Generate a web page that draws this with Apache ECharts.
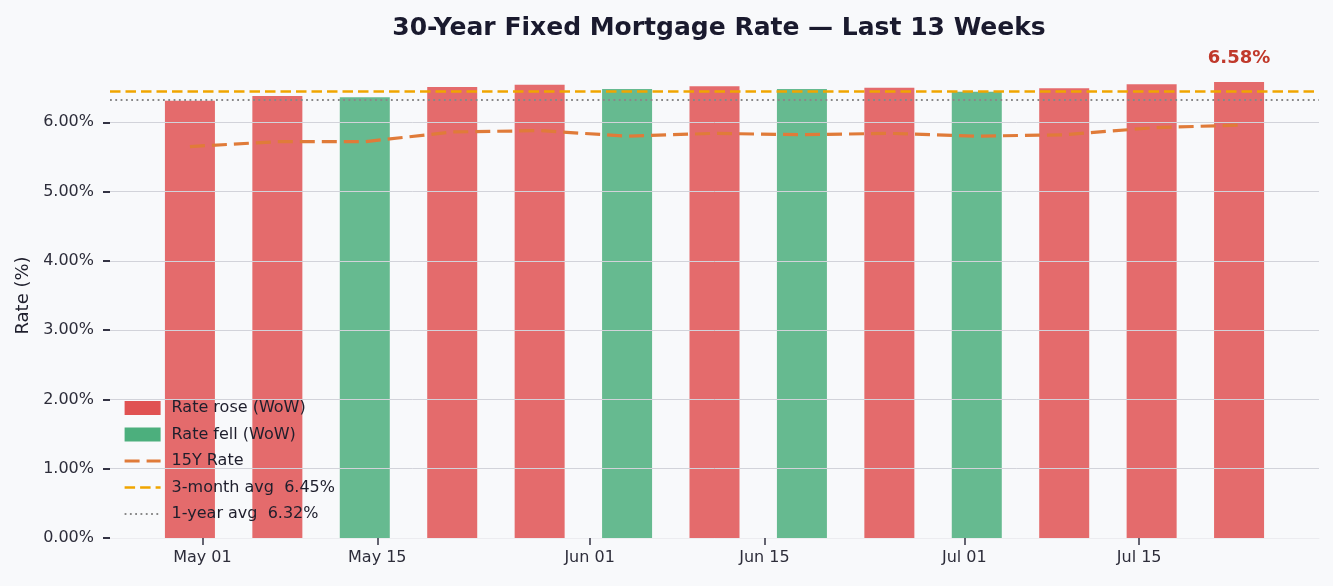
<!DOCTYPE html>
<html>
<head>
<meta charset="utf-8">
<script src="https://cdn.jsdelivr.net/npm/echarts@6/dist/echarts.min.js"></script>
<style>
  html, body { margin: 0; padding: 0; background: #f8f9fb; }
  #chart { width: 1333px; height: 586px; }
</style>
</head>
<body>
<div id="chart"></div>
<script>
// weekly survey dates and rates
const weekDates = ['2025-04-30', '2025-05-07', '2025-05-14', '2025-05-21', '2025-05-28', '2025-06-04', '2025-06-11',
  '2025-06-18', '2025-06-25', '2025-07-02', '2025-07-09', '2025-07-16', '2025-07-23'];
const rate30 = [6.31, 6.38, 6.36, 6.51, 6.54, 6.48, 6.52, 6.48, 6.50, 6.44, 6.49, 6.55, 6.58];
const rate15 = [5.65, 5.72, 5.72, 5.86, 5.88, 5.80, 5.84, 5.82, 5.84, 5.80, 5.82, 5.92, 5.96];
const avg3m = 6.45;
const avg1y = 6.32;

// axis ticks
const tickDates = ['2025-05-01', '2025-05-15', '2025-06-01', '2025-06-15', '2025-07-01', '2025-07-15'];
const tickLabels = ['May 01', 'May 15', 'Jun 01', 'Jun 15', 'Jul 01', 'Jul 15'];
const yTicks = [0, 1, 2, 3, 4, 5, 6];

const FONT = 'DejaVu Sans';
const RED = '#e05252';
const GREEN = '#4caf7d';
const RED_BAR = 'rgba(224, 82, 82, 0.85)';
const GREEN_BAR = 'rgba(76, 175, 125, 0.85)';

// line styles (shared by the series and their legend icons)
const style15 = { color: '#e07b39', width: 3.2, type: [15, 7] };
const style3m = { color: '#f0a500', width: 2.6, type: [10.5, 5] };
const style1y = { color: '#888888', width: 1.8, type: [1.8, 3.5] };

// days since first week
const DAY = 86400000;
const toDay = d => (Date.parse(d) - Date.parse(weekDates[0])) / DAY;
const weekDays = weekDates.map(toDay);
const tickDays = tickDates.map(toDay);

// x limits: bar half width 2 days + 5% margin
const lo = weekDays[0] - 2;
const hi = weekDays[weekDays.length - 1] + 2;
const pad = (hi - lo) * 0.05;

const roseData = [];
const fellData = [];
rate30.forEach((r, i) => {
  const up = i === 0 || r > rate30[i - 1];
  const item = { value: [weekDays[i], r] };
  if (i === rate30.length - 1) {
    item.label = {
      show: true,
      position: 'top',
      distance: 15,
      formatter: p => p.value[1].toFixed(2) + '%',
      color: '#c0392b',
      fontFamily: FONT,
      fontWeight: 'bold',
      fontSize: 18
    };
  }
  (up ? roseData : fellData).push(item);
});

const name3m = '3-month avg  ' + avg3m.toFixed(2) + '%';
const name1y = '1-year avg  ' + avg1y.toFixed(2) + '%';
const noSymbol = { color: 'rgba(0,0,0,0)', borderWidth: 0 };

const chart = echarts.init(document.getElementById('chart'));
chart.setOption({
  animation: false,
  backgroundColor: '#f8f9fb',
  textStyle: { fontFamily: FONT },
  title: {
    text: '30-Year Fixed Mortgage Rate — Last 13 Weeks',
    left: 714,
    textAlign: 'center',
    top: 11,
    textStyle: { fontFamily: FONT, fontSize: 25, fontWeight: 'bold', color: '#1a1a2e' }
  },
  legend: {
    orient: 'vertical',
    left: 123,
    top: 400,
    padding: 0,
    itemWidth: 36,
    itemHeight: 14,
    itemGap: 10.5,
    textStyle: { fontFamily: FONT, fontSize: 16, color: '#1e1e2c', padding: [0, 0, 0, 6] },
    data: [
      { name: 'Rate rose (WoW)', icon: 'rect', itemStyle: { color: RED } },
      { name: 'Rate fell (WoW)', icon: 'rect', itemStyle: { color: GREEN } },
      { name: '15Y Rate', itemStyle: noSymbol, lineStyle: style15 },
      { name: name3m, itemStyle: noSymbol, lineStyle: style3m },
      { name: name1y, itemStyle: noSymbol, lineStyle: style1y }
    ]
  },
  grid: { left: 110, right: 14, top: 53, bottom: 48, outerBoundsMode: 'none', containLabel: false },
  xAxis: {
    type: 'value',
    min: lo - pad,
    max: hi + pad,
    axisLine: { show: true, onZero: false, lineStyle: { color: '#ececf0', width: 1 } },
    axisTick: { show: true, length: 7, customValues: tickDays, lineStyle: { color: '#333344', width: 1.5 } },
    axisLabel: {
      customValues: tickDays,
      margin: 12,
      fontSize: 16,
      color: '#2d2d3a',
      formatter: v => tickLabels[tickDays.indexOf(v)] || ''
    },
    splitLine: { show: false }
  },
  yAxis: {
    type: 'value',
    min: 0,
    max: 7,
    interval: 1,
    name: 'Rate (%)',
    nameLocation: 'middle',
    nameGap: 77,
    nameTextStyle: { fontFamily: FONT, fontSize: 18, color: '#1e1e2c' },
    axisLine: { show: false, onZero: false },
    axisTick: { show: true, length: 7, customValues: yTicks, lineStyle: { color: '#333344', width: 2 } },
    axisLabel: {
      customValues: yTicks,
      margin: 16,
      fontSize: 16,
      color: '#2d2d3a',
      formatter: v => v.toFixed(2) + '%'
    },
    splitLine: { show: false }
  },
  series: [
    {
      // horizontal grid lines behind the bars
      name: '_grid',
      type: 'line',
      data: [],
      z: 0,
      silent: true,
      markLine: {
        silent: true,
        symbol: 'none',
        label: { show: false },
        lineStyle: { color: '#d2d3da', width: 1, type: 'solid' },
        data: yTicks.slice(1).map(v => ({ yAxis: v }))
      }
    },
    {
      name: 'Rate rose (WoW)',
      type: 'bar',
      barWidth: 50,
      barGap: '-100%',
      itemStyle: { color: RED_BAR },
      data: roseData,
      z: 2
    },
    {
      name: 'Rate fell (WoW)',
      type: 'bar',
      barWidth: 50,
      barGap: '-100%',
      itemStyle: { color: GREEN_BAR },
      data: fellData,
      z: 2
    },
    {
      name: '15Y Rate',
      type: 'line',
      symbol: 'none',
      z: 4,
      lineStyle: style15,
      itemStyle: { color: style15.color },
      data: rate15.map((r, i) => [weekDays[i], r])
    },
    {
      name: name3m,
      type: 'line',
      data: [],
      z: 5,
      symbol: 'none',
      lineStyle: style3m,
      itemStyle: { color: style3m.color },
      markLine: {
        silent: true,
        symbol: 'none',
        label: { show: false },
        lineStyle: style3m,
        data: [{ yAxis: avg3m }]
      }
    },
    {
      name: name1y,
      type: 'line',
      data: [],
      z: 5,
      symbol: 'none',
      lineStyle: style1y,
      itemStyle: { color: style1y.color },
      markLine: {
        silent: true,
        symbol: 'none',
        label: { show: false },
        lineStyle: style1y,
        data: [{ yAxis: avg1y }]
      }
    }
  ]
});
</script>
</body>
</html>
